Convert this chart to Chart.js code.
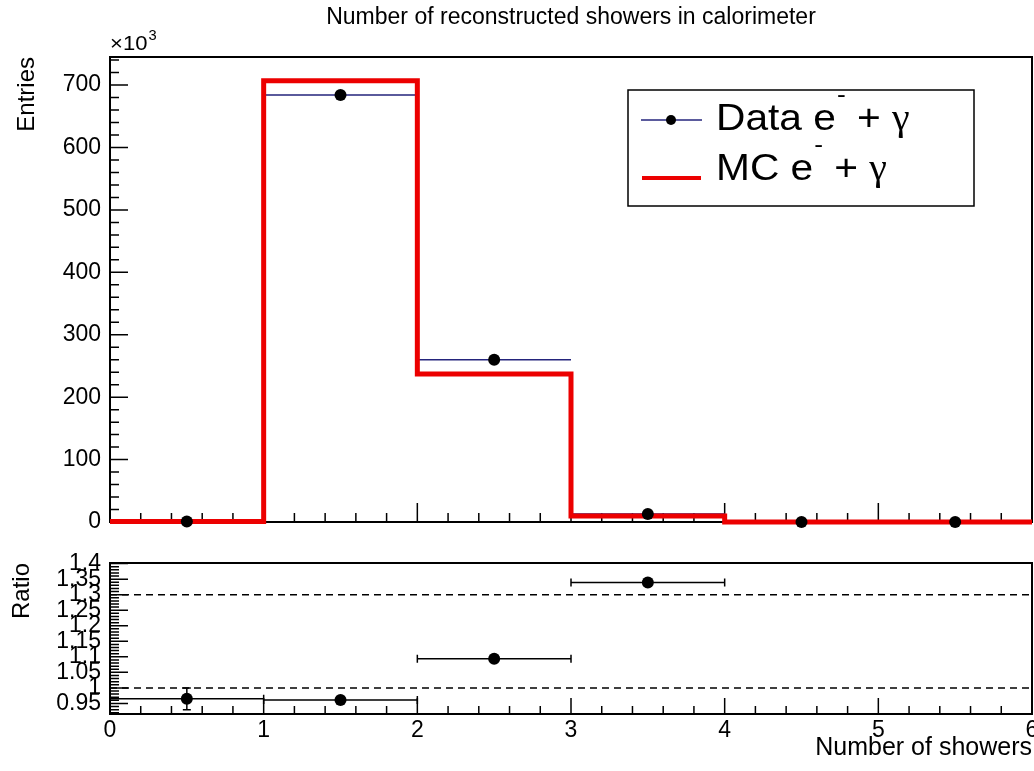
<!DOCTYPE html>
<html>
<head>
<meta charset="utf-8">
<script src="https://cdn.jsdelivr.net/npm/chart.js@4.4.1/dist/chart.umd.min.js"></script>
<style>
  body { margin: 0; background: #fff; overflow: hidden; width: 1034px; height: 771px; position: relative; }
  canvas { position: absolute; left: 0; }
  #top { top: 0; }
  #ratio { top: 540px; }
</style>
</head>
<body>
<canvas id="top" width="1060" height="540"></canvas>
<canvas id="ratio" width="1060" height="231"></canvas>
<script>
// values, entries are in units of 10^3
const binEdges = [0, 1, 2, 3, 4, 5, 6];
const binCenters = [0.5, 1.5, 2.5, 3.5, 4.5, 5.5];
const dataEntries = [0.8, 684, 260, 13, 0, 0];
const mcEntries = [0.83, 707, 237, 9.7, 0, 0];

const ratioCenters = [0.5, 1.5, 2.5, 3.5];
const ratioVals = [0.965, 0.961, 1.094, 1.339];
const ratioErr = [0.035, 0.003, 0.004, 0.012];
const refLines = [1.0, 1.3];

const entriesTicks = [0, 100, 200, 300, 400, 500, 600, 700];
const ratioTicks = [0.95, 1, 1.05, 1.1, 1.15, 1.2, 1.25, 1.3, 1.35, 1.4];
const showerTicks = [0, 1, 2, 3, 4, 5, 6];

const legendRows = [
  { text: 'Data e', sup: '-', tail: '+', greek: 'γ' },
  { text: 'MC e', sup: '-', tail: '+', greek: 'γ' }
];

const FONT = '"Liberation Sans", Arial, Helvetica, sans-serif';
Chart.defaults.font.family = FONT;
Chart.defaults.color = '#000';

const navy = '#24247c';
const red = '#ec0000';

// ROOT style frame with inward ticks
const rootFrame = {
  id: 'rootFrame',
  beforeDatasetsDraw(chart, args, o) {
    const { ctx, chartArea: a, scales } = chart;
    ctx.save();
    ctx.strokeStyle = '#000';
    ctx.lineWidth = 1.5;
    ctx.beginPath();
    // x ticks, bottom edge pointing up
    const xs = scales.x;
    for (let k = Math.ceil(xs.min / o.x.minor - 1e-6); k <= Math.floor(xs.max / o.x.minor + 1e-6); k++) {
      const px = xs.getPixelForValue(k * o.x.minor);
      const len = k % 5 === 0 ? o.x.major : o.x.minorLen;
      ctx.moveTo(px, a.bottom);
      ctx.lineTo(px, a.bottom - len);
    }
    const ys = scales.y;
    for (let k = Math.ceil(ys.min / o.y.minor - 1e-6); k <= Math.floor(ys.max / o.y.minor + 1e-6); k++) {
      const py = ys.getPixelForValue(k * o.y.minor);
      const len = k % 5 === 0 ? o.y.major : o.y.minorLen;
      ctx.moveTo(a.left, py);
      ctx.lineTo(a.left + len, py);
    }
    ctx.stroke();
    ctx.lineWidth = 2;
    ctx.strokeRect(a.left, a.top, a.right - a.left, a.bottom - a.top);
    ctx.restore();
  }
};

// error bars from dataset.errBar
const errBars = {
  id: 'errBars',
  beforeDatasetsDraw(chart) {
    const { ctx, scales: { x, y } } = chart;
    chart.data.datasets.forEach(ds => {
      const e = ds.errBar;
      if (!e) return;
      ctx.save();
      ctx.strokeStyle = e.color;
      ctx.lineWidth = e.width;
      ctx.beginPath();
      ds.data.forEach((p, i) => {
        const py = y.getPixelForValue(p.y);
        const x0 = x.getPixelForValue(e.lo[i]);
        const x1 = x.getPixelForValue(e.hi[i]);
        ctx.moveTo(x0, py);
        ctx.lineTo(x1, py);
        if (e.caps) {
          ctx.moveTo(x0, py - e.caps); ctx.lineTo(x0, py + e.caps);
          ctx.moveTo(x1, py - e.caps); ctx.lineTo(x1, py + e.caps);
        }
        if (e.yErr) {
          const px = x.getPixelForValue(p.x);
          const yTop = y.getPixelForValue(p.y + e.yErr[i]);
          const yBot = y.getPixelForValue(p.y - e.yErr[i]);
          if (yBot - yTop > 14) {
            ctx.moveTo(px, yTop); ctx.lineTo(px, yBot);
            ctx.moveTo(px - e.caps, yTop); ctx.lineTo(px + e.caps, yTop);
            ctx.moveTo(px - e.caps, yBot); ctx.lineTo(px + e.caps, yBot);
          }
        }
      });
      ctx.stroke();
      ctx.restore();
    });
  }
};

function wideText(ctx, txt, x, y, font, sx) {
  ctx.save();
  ctx.font = font;
  ctx.translate(x, y);
  ctx.scale(sx, 1);
  ctx.fillText(txt, 0, 0);
  const w = ctx.measureText(txt).width * sx;
  ctx.restore();
  return x + w;
}

// title, x10^3 and the legend box
const decorations = {
  id: 'decorations',
  afterDraw(chart) {
    const { ctx, chartArea: a } = chart;
    ctx.save();
    ctx.fillStyle = '#000';
    ctx.textBaseline = 'alphabetic';
    ctx.font = '23px ' + FONT;
    ctx.textAlign = 'center';
    ctx.fillText('Number of reconstructed showers in calorimeter', (a.left + a.right) / 2, 24);

    ctx.textAlign = 'left';
    const x10end = wideText(ctx, '×10', a.left, 50, '21px ' + FONT, 1.05);
    wideText(ctx, '3', x10end + 1, 40, '14px ' + FONT, 1.05);

    // legend
    ctx.fillStyle = '#fff';
    ctx.fillRect(628, 90, 346, 116);
    ctx.strokeStyle = '#000';
    ctx.lineWidth = 1.5;
    ctx.strokeRect(628, 90, 346, 116);

    ctx.strokeStyle = navy;
    ctx.lineWidth = 1.5;
    ctx.beginPath(); ctx.moveTo(641, 120); ctx.lineTo(702, 120); ctx.stroke();
    ctx.fillStyle = '#000';
    ctx.beginPath(); ctx.arc(671, 120, 5, 0, Math.PI * 2); ctx.fill();

    ctx.strokeStyle = red;
    ctx.lineWidth = 4;
    ctx.beginPath(); ctx.moveTo(642, 178); ctx.lineTo(701, 178); ctx.stroke();

    const baselines = [130, 180];
    legendRows.forEach((r, i) => {
      const b = baselines[i];
      ctx.fillStyle = '#000';
      const end = wideText(ctx, r.text, 716, b, '37px ' + FONT, 1.1);
      wideText(ctx, r.sup, end + 1, b - 28, '24px ' + FONT, 1.1);
      wideText(ctx, r.tail, end + 21, b, '37px ' + FONT, 1.1);
      wideText(ctx, r.greek, end + 56, b, '38px "Liberation Serif", "DejaVu Serif", serif', 1.05);
    });
    ctx.restore();
  }
};

const noPad = s => { s.paddingTop = 0; s.paddingBottom = 0; };

const topChart = new Chart(document.getElementById('top'), {
  type: 'line',
  data: {
    datasets: [
      {
        type: 'scatter',
        label: 'Data',
        data: binCenters.map((x, i) => ({ x: x, y: dataEntries[i] })),
        pointRadius: 6,
        pointBackgroundColor: '#000',
        pointBorderColor: '#000',
        pointBorderWidth: 0,
        showLine: false,
        clip: false,
        errBar: { color: navy, width: 1.5, caps: 0, lo: binEdges.slice(0, -1), hi: binEdges.slice(1) }
      },
      {
        label: 'MC',
        data: binEdges.map((x, i) => ({ x: x, y: mcEntries[Math.min(i, mcEntries.length - 1)] })),
        stepped: 'before',
        borderColor: red,
        borderWidth: 5,
        borderJoinStyle: 'miter',
        pointRadius: 0,
        fill: false,
        clip: false
      }
    ]
  },
  options: {
    responsive: false,
    animation: false,
    layout: { padding: { top: 57, right: 28, bottom: 18, left: 0 } },
    plugins: {
      legend: { display: false },
      tooltip: { enabled: false },
      rootFrame: { x: { minor: 0.2, major: 19, minorLen: 9 }, y: { minor: 20, major: 18, minorLen: 9 } }
    },
    scales: {
      x: { type: 'linear', min: 0, max: 6, display: false },
      y: {
        min: 0, max: 745,
        afterBuildTicks: s => { s.ticks = entriesTicks.map(v => ({ value: v })); },
        afterFit: s => { s.width = 110; noPad(s); },
        grid: { display: false, drawTicks: false },
        border: { display: false },
        ticks: { font: { size: 23 }, color: '#000', padding: 9, autoSkip: false },
        title: { display: true, text: 'Entries', align: 'end', color: '#000', font: { size: 24 }, padding: { top: 13, bottom: 0 } }
      }
    }
  },
  plugins: [rootFrame, errBars, decorations]
});

const ratioChart = new Chart(document.getElementById('ratio'), {
  type: 'line',
  data: {
    datasets: [
      {
        type: 'scatter',
        label: 'Ratio',
        data: ratioCenters.map((x, i) => ({ x: x, y: ratioVals[i] })),
        pointRadius: 6,
        pointBackgroundColor: '#000',
        pointBorderColor: '#000',
        pointBorderWidth: 0,
        showLine: false,
        clip: false,
        errBar: { color: '#000', width: 1.5, caps: 4, lo: binEdges.slice(0, 4), hi: binEdges.slice(1, 5), yErr: ratioErr }
      },
      ...refLines.map(v => ({
        label: 'ref ' + v,
        data: [{ x: 0, y: v }, { x: 6, y: v }],
        borderColor: '#000',
        borderWidth: 1.5,
        borderDash: [7, 5],
        pointRadius: 0,
        fill: false
      }))
    ]
  },
  options: {
    responsive: false,
    animation: false,
    layout: { padding: { top: 23, right: 28, bottom: 0, left: 0 } },
    plugins: {
      legend: { display: false },
      tooltip: { enabled: false },
      rootFrame: { x: { minor: 0.2, major: 16, minorLen: 8 }, y: { minor: 0.01, major: 18, minorLen: 9 } }
    },
    scales: {
      x: {
        type: 'linear', min: 0, max: 6,
        afterBuildTicks: s => { s.ticks = showerTicks.map(v => ({ value: v })); },
        afterFit: s => { s.height = 57; },
        grid: { display: false, drawTicks: false },
        border: { display: false },
        ticks: { font: { size: 23 }, color: '#000', padding: 3, maxRotation: 0, autoSkip: false },
        title: { display: true, text: 'Number of showers', align: 'end', color: '#000', font: { size: 25 }, padding: { top: 0, bottom: 8 } }
      },
      y: {
        min: 0.916, max: 1.402,
        afterBuildTicks: s => { s.ticks = ratioTicks.map(v => ({ value: v })); },
        afterFit: s => { s.width = 110; noPad(s); },
        grid: { display: false, drawTicks: false },
        border: { display: false },
        ticks: { font: { size: 23 }, color: '#000', padding: 9, autoSkip: false, callback: v => String(Math.round(v * 100) / 100) },
        title: { display: true, text: 'Ratio', align: 'end', color: '#000', font: { size: 24 }, padding: { top: 8, bottom: 0 } }
      }
    }
  },
  plugins: [rootFrame, errBars]
});
</script>
</body>
</html>
